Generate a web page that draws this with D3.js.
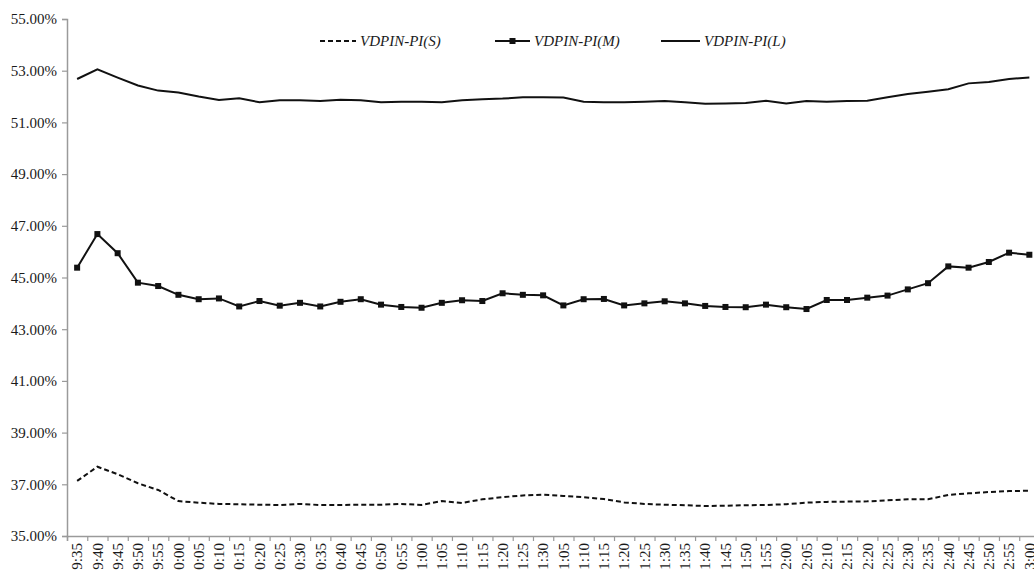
<!DOCTYPE html>
<html>
<head>
<meta charset="utf-8">
<script src="https://cdn.jsdelivr.net/npm/d3@7"></script>
<style>
  html, body { margin: 0; padding: 0; background: #fff; }
  svg { display: block; }
  text { font-family: "Liberation Serif", "Times New Roman", serif; fill: #1a1a1a; }
</style>
</head>
<body>
<svg id="chart" width="1034" height="572"></svg>
<script>
// Time labels along the x axis (one per 5-minute interval)
const times = [
  "9:35", "9:40", "9:45", "9:50", "9:55", "0:00", "0:05", "0:10", "0:15", "0:20",
  "0:25", "0:30", "0:35", "0:40", "0:45", "0:50", "0:55", "1:00", "1:05", "1:10",
  "1:15", "1:20", "1:25", "1:30", "1:05", "1:10", "1:15", "1:20", "1:25", "1:30",
  "1:35", "1:40", "1:45", "1:50", "1:55", "2:00", "2:05", "2:10", "2:15", "2:20",
  "2:25", "2:30", "2:35", "2:40", "2:45", "2:50", "2:55", "3:00"
];

// Series values, in percent
const seriesS = [
  37.13, 37.68, 37.39, 37.04, 36.78, 36.35, 36.29, 36.24, 36.23, 36.21,
  36.20, 36.24, 36.20, 36.20, 36.21, 36.21, 36.24, 36.20, 36.35, 36.28,
  36.42, 36.50, 36.57, 36.60, 36.55, 36.50, 36.43, 36.30, 36.24, 36.21,
  36.19, 36.16, 36.17, 36.19, 36.20, 36.23, 36.29, 36.32, 36.33, 36.34,
  36.38, 36.42, 36.42, 36.59, 36.65, 36.70, 36.74, 36.75
];
const seriesM = [
  45.38, 46.68, 45.94, 44.80, 44.67, 44.33, 44.16, 44.19, 43.88, 44.09,
  43.91, 44.02, 43.88, 44.06, 44.16, 43.95, 43.86, 43.83, 44.02, 44.12,
  44.09, 44.39, 44.33, 44.31, 43.92, 44.16, 44.17, 43.92, 44.00, 44.08,
  44.00, 43.90, 43.86, 43.85, 43.95, 43.85, 43.78, 44.13, 44.13, 44.22,
  44.30, 44.54, 44.78, 45.43, 45.38, 45.60, 45.96, 45.88
];
const seriesL = [
  52.68, 53.05, 52.73, 52.43, 52.23, 52.16, 52.00, 51.87, 51.93, 51.78,
  51.86, 51.86, 51.83, 51.88, 51.86, 51.78, 51.80, 51.80, 51.78, 51.86,
  51.90, 51.92, 51.97, 51.97, 51.96, 51.80, 51.78, 51.78, 51.80, 51.83,
  51.78, 51.72, 51.73, 51.75, 51.84, 51.73, 51.83, 51.80, 51.83, 51.84,
  51.97, 52.10, 52.19, 52.28, 52.51, 52.56, 52.68, 52.74
];
const yTicks = [35, 37, 39, 41, 43, 45, 47, 49, 51, 53, 55];
const legendNames = ["VDPIN-PI(S)", "VDPIN-PI(M)", "VDPIN-PI(L)"];

(function draw() {
  const svg = d3.select("#chart");
  const plotLeft = 67, plotTop = 19, plotBottom = 536, step = 20.26;
  const idx = d3.range(times.length);

  const x = d3.scaleBand().domain(idx).range([plotLeft, plotLeft + step * times.length]);
  const xEdge = d3.scaleLinear().domain([0, times.length]).range([plotLeft, plotLeft + step * times.length]);
  const y = d3.scaleLinear().domain([35, 55]).range([plotBottom, plotTop]);
  const cx = i => x(i) + x.bandwidth() / 2;

  const axisColor = "#9a9a9a";

  // Y axis
  const gy = svg.append("g").attr("transform", `translate(${plotLeft},0)`)
    .call(d3.axisLeft(y).tickValues(yTicks).tickSize(5).tickPadding(5)
      .tickFormat(d => d.toFixed(2) + "%"));
  gy.select(".domain").attr("stroke", axisColor).attr("stroke-width", 1.5);
  gy.selectAll(".tick line").attr("stroke", axisColor).attr("stroke-width", 1.2);
  gy.selectAll(".tick text").attr("font-family", "Liberation Serif").attr("font-size", 15).attr("fill", "#1a1a1a");

  // X axis: tick marks on category boundaries
  const gxEdge = svg.append("g").attr("transform", `translate(0,${plotBottom})`)
    .call(d3.axisBottom(xEdge).tickValues(d3.range(times.length + 1)).tickSize(5).tickFormat(""));
  gxEdge.select(".domain").attr("stroke", axisColor).attr("stroke-width", 1.5);
  gxEdge.selectAll(".tick line").attr("stroke", axisColor).attr("stroke-width", 1.2);

  // X axis: rotated labels at category centres
  const gx = svg.append("g").attr("transform", `translate(0,${plotBottom})`)
    .call(d3.axisBottom(x).tickSize(0).tickFormat(i => times[i]));
  gx.select(".domain").remove();
  gx.selectAll(".tick text")
    .attr("font-family", "Liberation Serif").attr("font-size", 15).attr("fill", "#1a1a1a")
    .attr("text-anchor", "end")
    .attr("transform", "rotate(-90)")
    .attr("x", -7).attr("y", 0).attr("dy", "0.35em");

  // Lines
  const line = d3.line().x((d, i) => cx(i)).y(d => y(d));

  svg.append("path").datum(seriesL)
    .attr("fill", "none").attr("stroke", "#111").attr("stroke-width", 2)
    .attr("d", line);

  svg.append("path").datum(seriesM)
    .attr("fill", "none").attr("stroke", "#111").attr("stroke-width", 2)
    .attr("d", line);
  svg.append("g").selectAll("rect").data(seriesM).join("rect")
    .attr("x", (d, i) => cx(i) - 3).attr("y", d => y(d) - 3)
    .attr("width", 6).attr("height", 6).attr("fill", "#111");

  svg.append("path").datum(seriesS)
    .attr("fill", "none").attr("stroke", "#111").attr("stroke-width", 2)
    .attr("stroke-dasharray", "5,3")
    .attr("d", line);

  // Legend
  const legendY = 41;
  const legend = [
    { name: legendNames[0], x0: 320, x1: 356, dash: "5,3", marker: false },
    { name: legendNames[1], x0: 495, x1: 530, dash: null, marker: true },
    { name: legendNames[2], x0: 661, x1: 700, dash: null, marker: false }
  ];
  const lg = svg.append("g");
  legend.forEach(l => {
    lg.append("line").attr("x1", l.x0).attr("x2", l.x1).attr("y1", legendY).attr("y2", legendY)
      .attr("stroke", "#111").attr("stroke-width", 2)
      .attr("stroke-dasharray", l.dash);
    if (l.marker) {
      lg.append("rect").attr("x", (l.x0 + l.x1) / 2 - 3).attr("y", legendY - 3)
        .attr("width", 6).attr("height", 6).attr("fill", "#111");
    }
    lg.append("text").attr("x", l.x1 + 4).attr("y", legendY).attr("dy", "0.35em")
      .attr("font-size", 15).attr("font-style", "italic").text(l.name);
  });
})();
</script>
</body>
</html>
